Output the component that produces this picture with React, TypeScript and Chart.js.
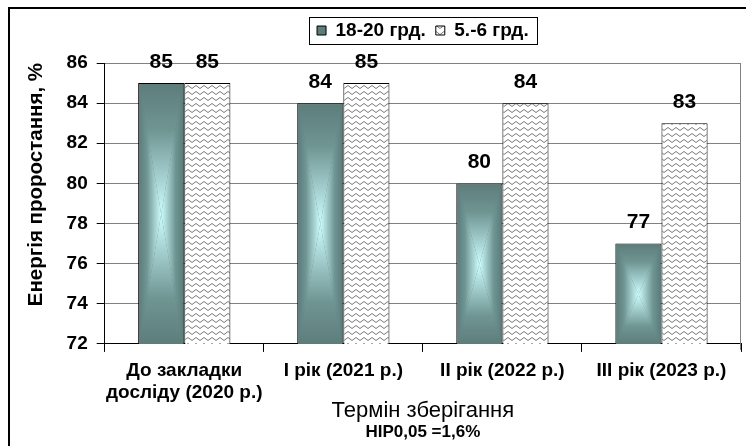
import React, { useEffect, useRef } from "react";
import { Chart, registerables } from "chart.js";

Chart.register(...registerables);

const categories: string[][] = [
  ["До закладки", "досліду (2020 р.)"],
  ["I рік (2021 р.)"],
  ["II рік (2022 р.)"],
  ["III рік (2023 р.)"],
];
const seriesWarm = [85, 84, 80, 77];
const seriesCold = [85, 85, 84, 83];
const seriesNames = ["18-20 грд.", "5.-6 грд."];
const yTitle = "Енергія проростання, %";
const xTitle = "Термін зберігання";
const noteText = "НІР0,05 =1,6%";
const yMin = 72;
const yMax = 86;
const yStep = 2;

const FONT = '"Liberation Sans", Arial, sans-serif';
const DARK = "#5d7d7b";
const LIGHT = "#cdfdfd";

function makeWavePattern(): CanvasPattern | string {
  const c = document.createElement("canvas");
  c.width = 8;
  c.height = 6;
  const g = c.getContext("2d");
  if (!g) return "#fff";
  g.fillStyle = "#ffffff";
  g.fillRect(0, 0, 8, 6);
  g.strokeStyle = "#7a7a7a";
  g.lineWidth = 1;
  g.beginPath();
  g.moveTo(0, 4.5);
  g.lineTo(4, 1.5);
  g.lineTo(8, 4.5);
  g.stroke();
  const p = g.createPattern(c, "repeat");
  return p || "#fff";
}

const framePlugin = {
  id: "frame",
  beforeDraw(chart: any) {
    const ctx = chart.ctx;
    ctx.save();
    ctx.fillStyle = "#ffffff";
    ctx.fillRect(0, 0, chart.width, chart.height);
    ctx.fillStyle = "#000";
    ctx.fillRect(8, 7, 2, chart.height - 7);
    ctx.fillRect(8, 7, chart.width - 8, 2);
    ctx.restore();
  },
  afterDraw(chart: any) {
    const ctx = chart.ctx;
    const a = chart.chartArea;
    ctx.save();
    ctx.strokeStyle = "#808080";
    ctx.lineWidth = 1;
    ctx.beginPath();
    const x = Math.round(a.right) - 0.5;
    ctx.moveTo(x, a.top);
    ctx.lineTo(x, a.bottom + 6);
    ctx.stroke();
    const hb = chart.legend && chart.legend.legendHitBoxes;
    if (hb && hb.length) {
      let l = Infinity, r = -Infinity, t = Infinity, b = -Infinity;
      hb.forEach((h: any) => {
        l = Math.min(l, h.left);
        r = Math.max(r, h.left + h.width);
        t = Math.min(t, h.top);
        b = Math.max(b, h.top + h.height);
      });
      ctx.strokeStyle = "#000";
      ctx.lineWidth = 1;
      ctx.strokeRect(Math.round(l - 8) + 0.5, Math.round(t - 4) + 0.5, Math.round(r - l + 16), Math.round(b - t + 8));
    }
    ctx.restore();
  },
};

const gradientPlugin = {
  id: "boxGradient",
  afterDatasetDraw(chart: any, args: any) {
    if (args.index !== 0) return;
    const ctx = chart.ctx;
    const area = chart.chartArea;
    args.meta.data.forEach((bar: any) => {
      const p = bar.getProps(["x", "y", "base", "width"], true);
      const L = p.x - p.width / 2 + 1;
      const R = p.x + p.width / 2 - 1;
      const T = Math.max(Math.min(p.y, p.base), area.top) + 1;
      const B = Math.min(Math.max(p.y, p.base), area.bottom);
      const cx = (L + R) / 2;
      const cy = (T + B) / 2;
      ctx.save();
      const tri = (pts: number[][], g: CanvasGradient) => {
        ctx.beginPath();
        ctx.moveTo(pts[0][0], pts[0][1]);
        ctx.lineTo(pts[1][0], pts[1][1]);
        ctx.lineTo(pts[2][0], pts[2][1]);
        ctx.closePath();
        ctx.fillStyle = g;
        ctx.fill();
      };
      const mk = (x0: number, y0: number, x1: number, y1: number) => {
        const g = ctx.createLinearGradient(x0, y0, x1, y1);
        g.addColorStop(0, DARK);
        g.addColorStop(0.35, "#6f9593");
        g.addColorStop(1, LIGHT);
        return g;
      };
      tri([[L, T], [cx, cy], [L, B]], mk(L, 0, cx, 0));
      tri([[R, T], [cx, cy], [R, B]], mk(R, 0, cx, 0));
      tri([[L, T], [R, T], [cx, cy]], mk(0, T, 0, cy));
      tri([[L, B], [R, B], [cx, cy]], mk(0, B, 0, cy));
      ctx.restore();
    });
  },
};

const valueLabelPlugin = {
  id: "valueLabels",
  afterDatasetsDraw(chart: any) {
    const ctx = chart.ctx;
    ctx.save();
    ctx.fillStyle = "#000";
    ctx.font = `bold 21px ${FONT}`;
    ctx.textAlign = "center";
    ctx.textBaseline = "middle";
    chart.data.datasets.forEach((ds: any, i: number) => {
      const meta = chart.getDatasetMeta(i);
      meta.data.forEach((bar: any, j: number) => {
        ctx.fillText(String(ds.data[j]), bar.x, bar.y - 21);
      });
    });
    ctx.restore();
  },
};

const legendSpacePlugin = {
  id: "legendSpace",
  beforeInit(chart: any) {
    const lg = chart.legend;
    if (!lg) return;
    const orig = lg.fit;
    lg.fit = function () {
      orig.call(this);
      this.height += 13;
    };
  },
};

export default function App() {
  const ref = useRef<HTMLCanvasElement | null>(null);
  useEffect(() => {
    if (!ref.current) return;
    const pattern = makeWavePattern();
    const chart = new Chart(ref.current, {
      type: "bar",
      data: {
        labels: categories,
        datasets: [
          {
            label: seriesNames[0],
            data: seriesWarm,
            backgroundColor: DARK,
            borderColor: "#000",
            borderWidth: 1,
            categoryPercentage: 0.58,
            barPercentage: 1.0,
          },
          {
            label: seriesNames[1],
            data: seriesCold,
            backgroundColor: pattern as any,
            borderColor: "#000",
            borderWidth: 1,
            categoryPercentage: 0.58,
            barPercentage: 1.0,
          },
        ],
      },
      options: {
        responsive: false,
        animation: false,
        devicePixelRatio: 1,
        layout: { padding: { top: 11, left: 12, right: 5, bottom: 3 } },
        plugins: {
          legend: {
            display: true,
            position: "top",
            fullSize: false,
            labels: {
              boxWidth: 9,
              boxHeight: 9,
              padding: 10,
              color: "#000",
              font: { family: FONT, size: 19, weight: "bold" },
            },
          },
          subtitle: {
            display: true,
            position: "bottom",
            fullSize: false,
            text: noteText,
            color: "#000",
            font: { family: FONT, size: 17, weight: "bold", lineHeight: 1.2 },
            padding: { top: 0, bottom: 0 },
          },
          tooltip: { enabled: false },
        },
        scales: {
          x: {
            type: "category",
            grid: {
              offset: true,
              drawOnChartArea: false,
              drawTicks: true,
              tickLength: 8,
              tickColor: "#000",
            },
            border: { color: "#000", width: 1 },
            ticks: {
              color: "#000",
              padding: 8,
              maxRotation: 0,
              autoSkip: false,
              font: { family: FONT, size: 19, weight: "bold", lineHeight: 1.15 },
            },
            title: {
              display: true,
              text: xTitle,
              color: "#000",
              font: { family: FONT, size: 22, weight: "normal", lineHeight: 1.0 },
              padding: { top: -12, bottom: 1 },
            },
          },
          y: {
            min: yMin,
            max: yMax,
            grid: { color: "#808080", tickColor: "#000", tickLength: 8 },
            border: { color: "#000", width: 1 },
            ticks: {
              stepSize: yStep,
              color: "#000",
              padding: 9,
              font: { family: FONT, size: 19, weight: "bold" },
            },
            title: {
              display: true,
              text: yTitle,
              align: "end",
              color: "#000",
              font: { family: FONT, size: 20.5, weight: "bold", lineHeight: 1.2 },
              padding: { top: 12, bottom: 9 },
            },
          },
        },
      },
      plugins: [legendSpacePlugin, framePlugin, gradientPlugin, valueLabelPlugin],
    } as any);
    return () => chart.destroy();
  }, []);
  return (
    <div style={{ position: "absolute", left: 0, top: 0, width: 746, height: 446 }}>
      <canvas ref={ref} width={746} height={446} style={{ display: "block" }} />
    </div>
  );
}
